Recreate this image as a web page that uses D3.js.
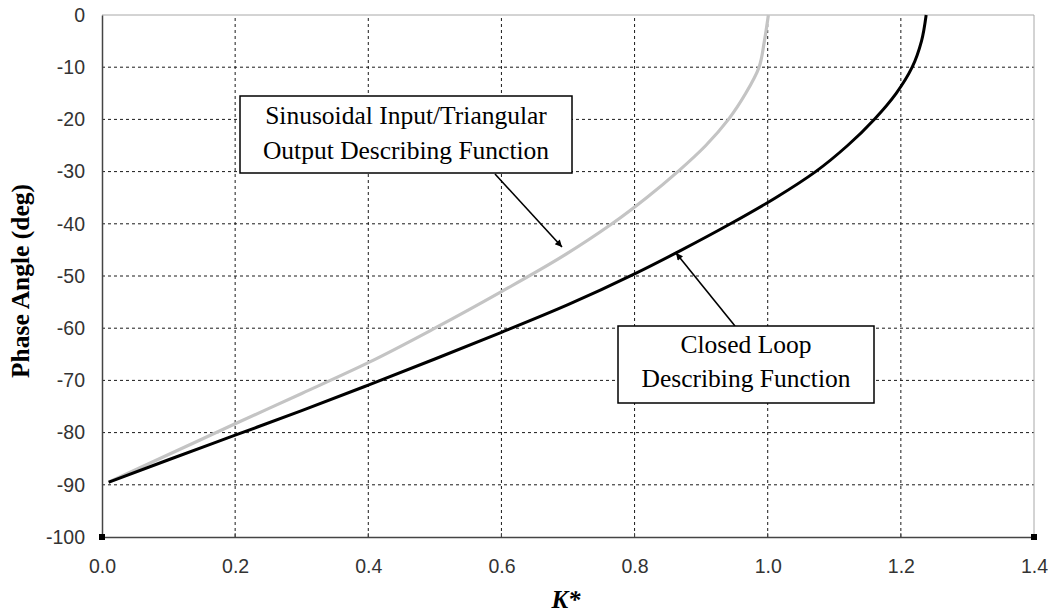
<!DOCTYPE html>
<html>
<head>
<meta charset="utf-8">
<script src="https://cdn.jsdelivr.net/npm/d3@7/dist/d3.min.js"></script>
<style>
  html, body { margin: 0; padding: 0; background: #fff; }
  svg { display: block; }
</style>
</head>
<body>
<svg id="chart" width="1048" height="615"></svg>
<script>
// ---- data ----
const xTicks = [0.0, 0.2, 0.4, 0.6, 0.8, 1.0, 1.2, 1.4];
const yTicks = [0, -10, -20, -30, -40, -50, -60, -70, -80, -90, -100];

// Closed Loop Describing Function (black)
const closedLoopK = [0.01, 0.1, 0.2, 0.3, 0.4, 0.5, 0.6, 0.7, 0.8, 0.871, 0.944, 1.012, 1.072, 1.120, 1.160, 1.193, 1.217, 1.231, 1.238];
const closedLoopPhase = [-89.5, -85.2, -80.5, -75.8, -70.9, -65.9, -60.8, -55.5, -49.6, -45.0, -40.0, -35.0, -30.0, -25.0, -20.0, -15.0, -10.0, -5.0, 0];

// Sinusoidal Input / Triangular Output Describing Function (gray)
const sinTriK = [0.01, 0.1, 0.2, 0.3, 0.4, 0.5, 0.6, 0.691, 0.766, 0.818, 0.865, 0.907, 0.941, 0.967, 0.987, 0.995, 1.001];
const sinTriPhase = [-89.5, -84.2, -78.3, -72.5, -66.6, -60.0, -53.0, -46.3, -40.0, -35.0, -30.0, -25.0, -20.0, -15.0, -10.0, -5.0, 0];

// Corner markers series
const markerK = [0.0, 1.4];
const markerPhase = [-100, -100];

const labels = [
  { lines: ["Sinusoidal Input/Triangular", "Output Describing Function"] },
  { lines: ["Closed Loop", "Describing Function"] }
];

// ---- layout ----
const svg = d3.select("#chart");
const L = 102, T = 15, R = 1034, B = 537;

const x = d3.scaleLinear().domain([0, 1.4]).range([L, R]);
const y = d3.scaleLinear().domain([-100, 0]).range([B, T]);

// gridlines
const grid = svg.append("g");
grid.selectAll("line.h").data(yTicks.filter(d => d > -100 && d < 0)).enter().append("line")
  .attr("x1", L).attr("x2", R).attr("y1", d => y(d)).attr("y2", d => y(d))
  .attr("stroke", "#1a1a1a").attr("stroke-width", 1).attr("stroke-dasharray", "3,3");
grid.selectAll("line.v").data(xTicks.filter(d => d > 0 && d < 1.4)).enter().append("line")
  .attr("x1", d => x(d)).attr("x2", d => x(d)).attr("y1", B).attr("y2", T)
  .attr("stroke", "#1a1a1a").attr("stroke-width", 1).attr("stroke-dasharray", "3,3");

// frame: top & right gray
svg.append("line").attr("x1", L).attr("x2", R).attr("y1", T).attr("y2", T).attr("stroke", "#a8a8a8").attr("stroke-width", 1);
svg.append("line").attr("x1", R).attr("x2", R).attr("y1", T).attr("y2", B).attr("stroke", "#a8a8a8").attr("stroke-width", 1);

// axes
const fmtY = d => String(d); // plain hyphen-minus like the original
const xAxis = d3.axisBottom(x).tickValues(xTicks).tickFormat(d3.format(".1f")).tickSize(0).tickPadding(20);
const yAxis = d3.axisLeft(y).tickValues(yTicks).tickFormat(fmtY).tickSize(0).tickPadding(17);

const gx = svg.append("g").attr("transform", `translate(0,${B})`).call(xAxis);
const gy = svg.append("g").attr("transform", `translate(${L},0)`).call(yAxis);
[gx, gy].forEach(g => {
  g.select(".domain").attr("stroke", "#444").attr("stroke-width", 1.5);
  g.selectAll("text").attr("font-family", "'Liberation Sans', Arial, sans-serif")
    .attr("font-size", 19.5).attr("fill", "#333");
});
gx.selectAll("text").attr("dy", "0.8em");

// small tick marks on bottom axis (inside)
svg.append("g").selectAll("line").data(xTicks.filter(d => d > 0 && d < 1.4)).enter().append("line")
  .attr("x1", d => x(d)).attr("x2", d => x(d)).attr("y1", B).attr("y2", B - 4)
  .attr("stroke", "#444").attr("stroke-width", 1);

// curves
const line = d3.line().x(d => x(d[0])).y(d => y(d[1])).curve(d3.curveMonotoneY);

svg.append("path").datum(d3.zip(sinTriK, sinTriPhase))
  .attr("d", line).attr("fill", "none").attr("stroke", "#c4c4c4").attr("stroke-width", 3.2)
  .attr("stroke-linejoin", "round");
svg.append("path").datum(d3.zip(closedLoopK, closedLoopPhase))
  .attr("d", line).attr("fill", "none").attr("stroke", "#000").attr("stroke-width", 3)
  .attr("stroke-linejoin", "round");

// corner markers
svg.append("g").selectAll("rect").data(d3.zip(markerK, markerPhase)).enter().append("rect")
  .attr("x", d => x(d[0]) - 3).attr("y", d => y(d[1]) - 3).attr("width", 6).attr("height", 6)
  .attr("fill", "#000");

// axis titles
svg.append("text")
  .attr("transform", `translate(29,281) rotate(-90)`)
  .attr("text-anchor", "middle")
  .attr("font-family", "'Liberation Serif', 'Times New Roman', serif")
  .attr("font-weight", "bold").attr("font-size", 25.5).attr("fill", "#000")
  .text("Phase Angle (deg)");
svg.append("text")
  .attr("x", 566).attr("y", 608)
  .attr("text-anchor", "middle")
  .attr("font-family", "'Liberation Serif', 'Times New Roman', serif")
  .attr("font-weight", "bold").attr("font-style", "italic").attr("font-size", 25).attr("fill", "#000")
  .text("K*");

// arrow marker
const defs = svg.append("defs");
defs.append("marker").attr("id", "arr").attr("viewBox", "0 0 10 10")
  .attr("refX", 10).attr("refY", 5).attr("markerWidth", 9).attr("markerHeight", 7)
  .attr("markerUnits", "userSpaceOnUse").attr("orient", "auto")
  .append("path").attr("d", "M0,0 L10,5 L0,10 Z").attr("fill", "#000");

// callout 1
svg.append("line").attr("x1", 495).attr("y1", 174).attr("x2", 562).attr("y2", 247)
  .attr("stroke", "#000").attr("stroke-width", 1.6).attr("marker-end", "url(#arr)");
svg.append("rect").attr("x", 240).attr("y", 96).attr("width", 332).attr("height", 77)
  .attr("fill", "#fff").attr("stroke", "#000").attr("stroke-width", 1.5);
svg.append("g").selectAll("text").data(labels[0].lines).enter().append("text")
  .attr("x", 406).attr("y", (d, i) => 124 + i * 35)
  .attr("text-anchor", "middle")
  .attr("font-family", "'Liberation Serif', 'Times New Roman', serif")
  .attr("font-size", 25.5).attr("fill", "#000").text(d => d);

// callout 2
svg.append("line").attr("x1", 735).attr("y1", 326).attr("x2", 676).attr("y2", 253)
  .attr("stroke", "#000").attr("stroke-width", 1.6).attr("marker-end", "url(#arr)");
svg.append("rect").attr("x", 618).attr("y", 326).attr("width", 256).attr("height", 77)
  .attr("fill", "#fff").attr("stroke", "#000").attr("stroke-width", 1.5);
svg.append("g").selectAll("text").data(labels[1].lines).enter().append("text")
  .attr("x", 746).attr("y", (d, i) => 353 + i * 34)
  .attr("text-anchor", "middle")
  .attr("font-family", "'Liberation Serif', 'Times New Roman', serif")
  .attr("font-size", 25.5).attr("fill", "#000").text(d => d);
</script>
</body>
</html>
